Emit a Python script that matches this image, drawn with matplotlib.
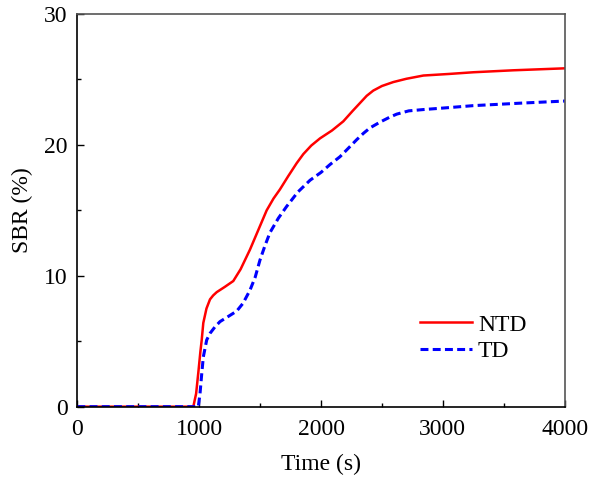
import numpy as np
import matplotlib
matplotlib.use('Agg')
import matplotlib.pyplot as plt
from matplotlib.ticker import MultipleLocator

plt.rcParams['font.family'] = ['Liberation Serif', 'DejaVu Serif']

# NTD curve
t_ntd = [0, 500, 952, 975, 993, 1010, 1021, 1034, 1060, 1089, 1115, 1144, 1210, 1280, 1340,
         1417, 1490, 1554, 1610, 1663, 1730, 1800, 1855, 1920, 1992, 2090, 2183, 2260,
         2320, 2375, 2429, 2500, 2593, 2700, 2840, 3050, 3250, 3578, 4000]
sbr_ntd = [0, 0, 0, 1.0, 2.6, 4.2, 5.1, 6.4, 7.5, 8.2, 8.5, 8.75, 9.15, 9.6, 10.5,
           12.0, 13.6, 15.0, 15.9, 16.6, 17.6, 18.6, 19.3, 19.95, 20.5, 21.1, 21.8, 22.6,
           23.2, 23.75, 24.15, 24.5, 24.8, 25.05, 25.3, 25.42, 25.55, 25.7, 25.85]

# TD curve
t_td = [0, 500, 993, 1007, 1020, 1034, 1062, 1089, 1130, 1171, 1240, 1308, 1360, 1417,
        1460, 1499, 1540, 1581, 1650, 1718, 1810, 1910, 2000, 2074, 2156, 2230, 2293,
        2350, 2402, 2486, 2560, 2621, 2720, 2840, 3050, 3250, 3660, 4000]
sbr_td = [0, 0, 0, 1.0, 2.4, 3.8, 5.1, 5.6, 6.1, 6.5, 6.9, 7.3, 7.9, 8.9,
          9.9, 11.2, 12.3, 13.3, 14.4, 15.3, 16.4, 17.3, 17.9, 18.5, 19.1, 19.8, 20.4,
          20.9, 21.3, 21.75, 22.1, 22.35, 22.6, 22.7, 22.85, 23.0, 23.2, 23.35]

fig = plt.figure(figsize=(5.92, 4.83), dpi=100)
ax = fig.add_axes([0.1306, 0.158, 0.8233, 0.813])

ax.plot(t_ntd, sbr_ntd, color='#ff0000', lw=1.8, label='NTD')
ax.plot(t_td, sbr_td, color='#0000ff', lw=2.2, ls=(0, (2.6, 1.4)), label='TD')

ax.set_xlim(0, 4000)
ax.set_ylim(0, 30)
ax.xaxis.set_major_locator(MultipleLocator(1000))
ax.xaxis.set_minor_locator(MultipleLocator(500))
ax.yaxis.set_major_locator(MultipleLocator(10))
ax.yaxis.set_minor_locator(MultipleLocator(5))
ax.tick_params(which='major', direction='in', length=5, width=1, labelsize=17)
ax.tick_params(axis='x', which='major', pad=9)
ax.tick_params(axis='y', which='major', pad=7)
ax.tick_params(which='minor', direction='in', length=3, width=1)
ax.tick_params(which='both', top=False, right=False)

for s in ['left', 'bottom']:
    ax.spines[s].set_linewidth(1.2)
    ax.spines[s].set_color('black')
for s in ['top', 'right']:
    ax.spines[s].set_linewidth(1.2)
    ax.spines[s].set_color('#555555')

ax.set_xlabel('Time (s)', fontsize=17, labelpad=10)
ax.set_ylabel('SBR (%)', fontsize=17, labelpad=8)

ax.legend(loc='lower right', bbox_to_anchor=(0.965, 0.06), frameon=False, fontsize=17,
          handlelength=2.2, handletextpad=0.25, labelspacing=0.2)

fig.savefig('out.png', dpi=100)
